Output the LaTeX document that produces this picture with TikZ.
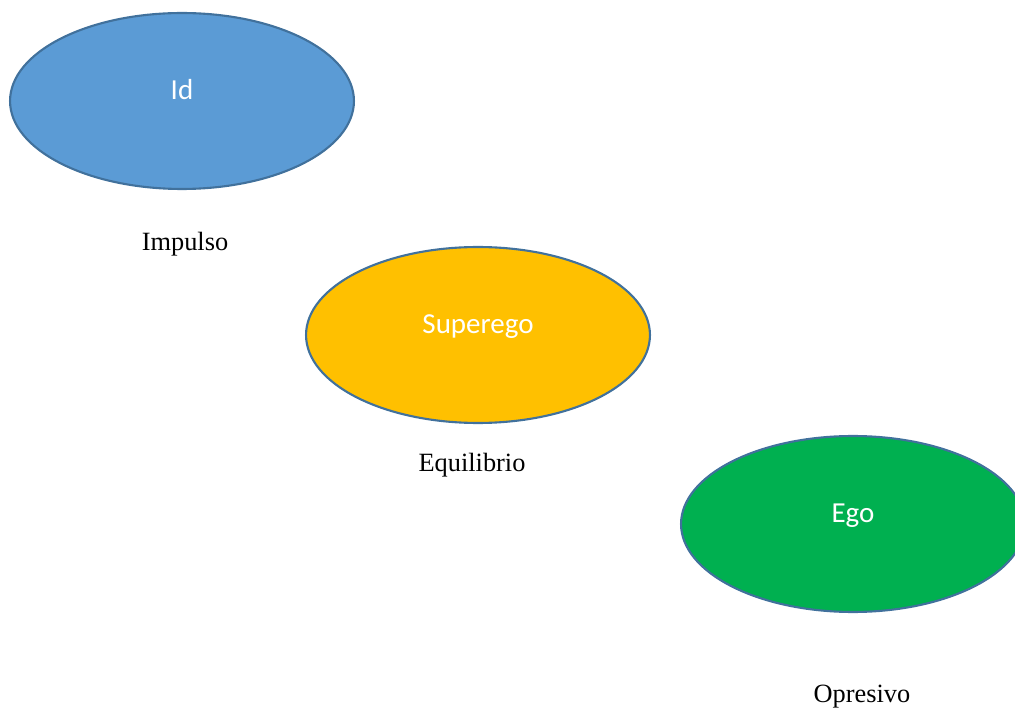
\documentclass[tikz,border=0pt]{standalone}
\usepackage{fontspec}
\setmainfont{Liberation Serif}
\newfontfamily\calib{Carlito}
\usetikzlibrary{shapes.geometric}

\definecolor{idblue}{HTML}{5B9BD5}
\definecolor{supyellow}{HTML}{FFC000}
\definecolor{egogreen}{HTML}{00B050}
\definecolor{rim}{HTML}{41719C}

\begin{document}
\begin{tikzpicture}[
  x=0.02cm, y=-0.02cm,
  blob/.style={ellipse, draw=rim, line width=1.2pt, minimum width=6.88cm,
               minimum height=3.52cm, text=white, text height=0.44cm,
               text depth=0.48cm,
               font=\calib\fontsize{16.5}{19}\selectfont},
  lbl/.style={font=\fontsize{15}{18}\selectfont, inner sep=0pt}]

\useasboundingbox (0,0) rectangle (1015,709);

\begin{scope}
\clip (0,0) rectangle (1015,709);
\node[blob, fill=idblue] (id) at (182,101) {Id};
\node[blob, fill=supyellow] (sup) at (478,335) {Superego};
\node[blob, fill=egogreen] (ego) at (853,524) {Ego};
\end{scope}

\node[lbl] (imp) at (185,244) {Impulso};
\node[lbl] (equ) at (472,465) {Equilibrio};
\node[lbl] (opr) at (862,697) {Opresivo};
\end{tikzpicture}
\end{document}
